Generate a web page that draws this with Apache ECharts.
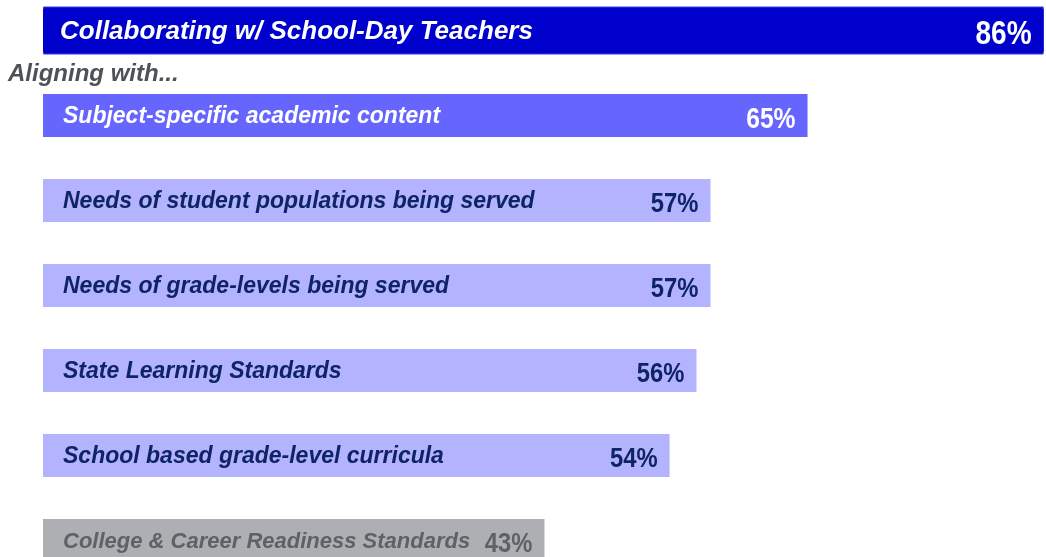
<!DOCTYPE html>
<html>
<head>
<meta charset="utf-8">
<script src="https://cdn.jsdelivr.net/npm/echarts@6/dist/echarts.min.js"></script>
<style>
  html, body { margin: 0; padding: 0; background: #fff; }
  #chart { width: 1046px; height: 557px; }
</style>
</head>
<body>
<div id="chart"></div>
<script>
// categories, top to bottom
const categories = [
  "Collaborating w/ School-Day Teachers",
  "Subject-specific academic content",
  "Needs of student populations being served",
  "Needs of grade-levels being served",
  "State Learning Standards",
  "School based grade-level curricula",
  "College & Career Readiness Standards"
];
// bar lengths (percent)
const values = [85.6, 65.4, 57.1, 57.1, 55.9, 53.6, 42.9];
const subTitle = "Aligning with...";

const barColors = ["#0000CC", "#6666FF", "#B3B3FF", "#B3B3FF", "#B3B3FF", "#B3B3FF", "#ADAFB3"];
const textColors = ["#FFFFFF", "#FFFFFF", "#0F2462", "#0F2462", "#0F2462", "#0F2462", "#5E6166"];
const nameSizes = [26, 23, 23, 23, 23, 23, 22];
const valueSizes = [33, 29, 28, 28, 28, 28, 28];

const chart = echarts.init(document.getElementById("chart"));

const option = {
  animation: false,
  grid: { left: 43, top: -12, width: 1169, height: 595, outerBoundsMode: "none" },
  xAxis: { type: "value", min: 0, max: 100, show: false },
  yAxis: [
    { type: "category", data: categories, inverse: true, show: false },
    // same categories, used only for the thicker headline bar
    { type: "category", data: categories, inverse: true, show: false }
  ],
  graphic: [
    {
      type: "text",
      left: 8,
      top: 62,
      style: {
        text: subTitle,
        fill: "#4D5257",
        font: "italic bold 24px 'Liberation Sans', Arial, sans-serif"
      }
    }
  ],
  series: [
    {
      // headline bar is drawn a bit taller than the rest
      type: "bar",
      yAxisIndex: 1,
      barWidth: 48,
      z: 1,
      data: values.map((v, i) => (i === 0 ? v : "-")),
      itemStyle: { color: barColors[0], borderColor: "#3C3CE0", borderWidth: 1 }
    },
    {
      type: "bar",
      barWidth: 43,
      z: 2,
      data: values.map((v, i) => ({
        value: v,
        itemStyle: { color: barColors[i] },
        label: {
          color: textColors[i],
          fontSize: nameSizes[i],
          distance: i === 0 ? 17 : 20
        }
      })),
      label: {
        show: true,
        position: "insideLeft",
        offset: [0, 1],
        fontFamily: "'Liberation Sans', Arial, sans-serif",
        fontStyle: "italic",
        fontWeight: "bold",
        formatter: p => p.name
      }
    },
    {
      // percent labels, drawn slightly condensed
      type: "custom",
      silent: true,
      z: 5,
      data: values.map((v, i) => [v, i]),
      renderItem: (params, api) => {
        const i = params.dataIndex;
        const p = api.coord([api.value(0), api.value(1)]);
        return {
          type: "text",
          x: p[0] - 12,
          y: p[1] + 4,
          scaleX: 0.85,
          style: {
            text: Math.round(api.value(0)) + "%",
            fill: textColors[i],
            font: "bold " + valueSizes[i] + "px 'Liberation Sans', Arial, sans-serif",
            align: "right",
            verticalAlign: "middle"
          }
        };
      }
    }
  ]
};
chart.setOption(option);
</script>
</body>
</html>
